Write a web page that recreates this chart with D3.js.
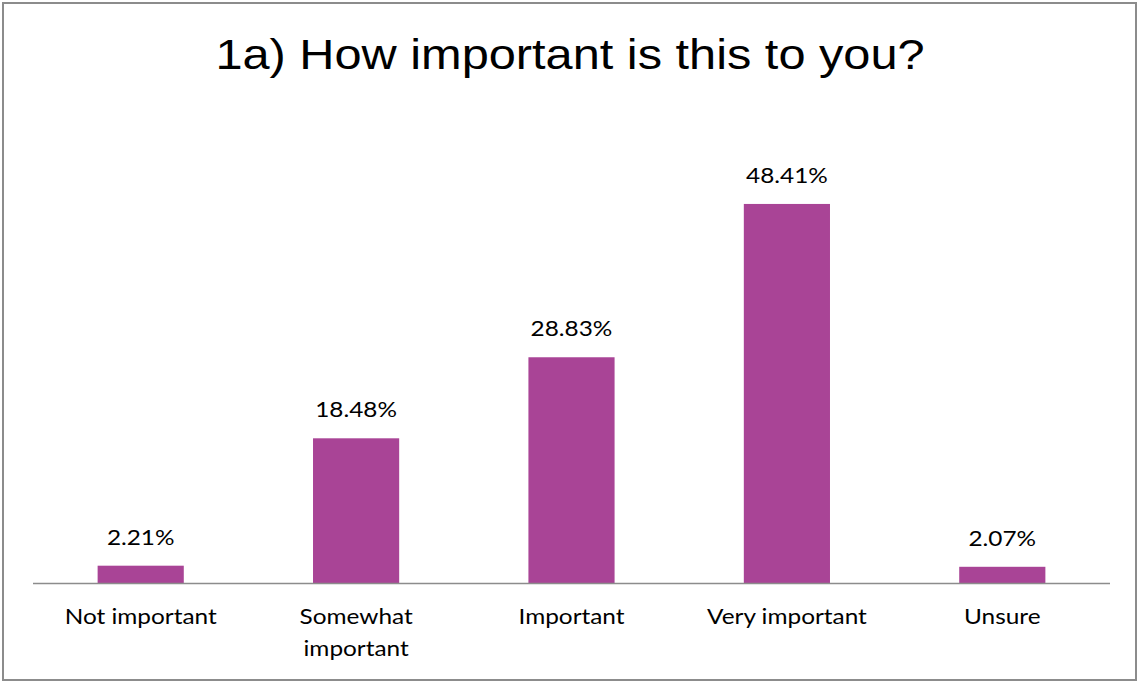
<!DOCTYPE html>
<html>
<head>
<meta charset="utf-8">
<script src="https://cdn.jsdelivr.net/npm/d3@7"></script>
<style>
  html, body { margin: 0; padding: 0; background: #fff; }
  svg { display: block; }
</style>
</head>
<body>
<svg id="chart" width="1138" height="682"></svg>
<script>
// Survey responses for question 1a
const categories = ["Not important", "Somewhat important", "Important", "Very important", "Unsure"];
const categoryLines = [["Not important"], ["Somewhat", "important"], ["Important"], ["Very important"], ["Unsure"]];
const values = [2.21, 18.48, 28.83, 48.41, 2.07];
const title = "1a) How important is this to you?";

const svg = d3.select("#chart");
const labelFont = "Lato, 'Open Sans', sans-serif";
const stretch = 1.16; // text is set slightly wide

// Outer frame
svg.append("rect")
  .attr("x", 3).attr("y", 3)
  .attr("width", 1133).attr("height", 677)
  .attr("fill", "#fff")
  .attr("stroke", "#8c8c8c")
  .attr("stroke-width", 2);

const plot = { left: 33, right: 1110, top: 100, bottom: 583 };

const x = d3.scaleBand()
  .domain(categories)
  .range([plot.left, plot.right])
  .paddingInner(0.6)
  .paddingOuter(0.3);

// 48.41% reaches y=204
const y = d3.scaleLinear()
  .domain([0, 60])
  .range([plot.bottom, plot.bottom - 60 * 7.83]);

// Title
svg.append("g")
  .attr("transform", `translate(570,69) scale(${stretch},1)`)
  .append("text")
  .attr("text-anchor", "middle")
  .attr("font-family", "'Liberation Sans', Arial, sans-serif")
  .attr("font-size", 42)
  .attr("fill", "#000")
  .text(title);

// Bars
svg.append("g").selectAll("rect")
  .data(values)
  .join("rect")
  .attr("x", (d, i) => x(categories[i]))
  .attr("y", d => y(d))
  .attr("width", x.bandwidth())
  .attr("height", d => y(0) - y(d))
  .attr("fill", "#A94496");

// Value labels
svg.append("g").selectAll("g")
  .data(values)
  .join("g")
  .attr("transform", (d, i) =>
    `translate(${x(categories[i]) + x.bandwidth() / 2},${y(d) - 21}) scale(${stretch},1)`)
  .append("text")
  .attr("text-anchor", "middle")
  .attr("font-family", labelFont)
  .attr("font-size", 21)
  .attr("fill", "#000")
  .text(d => d.toFixed(2) + "%");

// Category axis
const axis = d3.axisBottom(x).tickSize(0).tickFormat("");
const gx = svg.append("g")
  .attr("transform", `translate(0,${plot.bottom})`)
  .call(axis);
gx.select(".domain")
  .attr("d", `M${plot.left},0.5H${plot.right}`)
  .attr("stroke", "#8c8c8c")
  .attr("stroke-width", 1.5);

// Category labels (wrapped)
const lab = svg.append("g").selectAll("g")
  .data(categories)
  .join("g")
  .attr("transform", d => `translate(${x(d) + x.bandwidth() / 2},624) scale(${stretch},1)`)
  .append("text")
  .attr("text-anchor", "middle")
  .attr("font-family", labelFont)
  .attr("font-size", 21)
  .attr("fill", "#000");
lab.each(function(d, i) {
  const t = d3.select(this);
  categoryLines[i].forEach((line, j) => {
    t.append("tspan")
      .attr("x", 0)
      .attr("dy", j === 0 ? 0 : 32)
      .text(line);
  });
});
</script>
</body>
</html>
